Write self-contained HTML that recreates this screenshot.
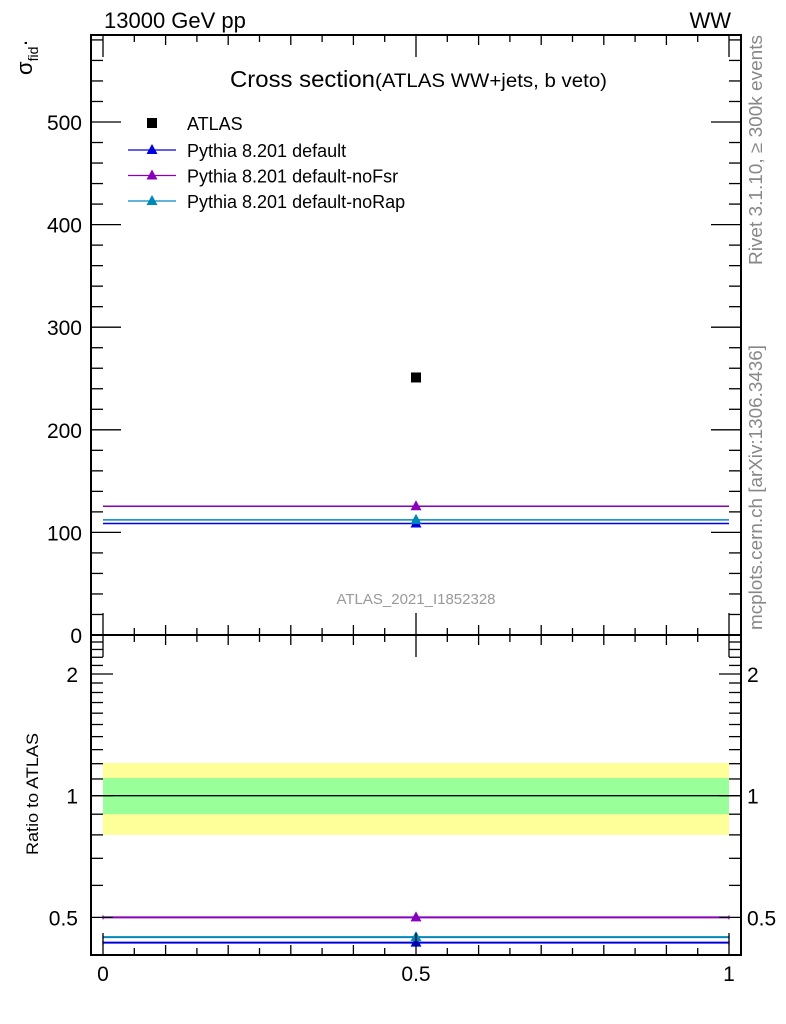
<!DOCTYPE html>
<html><head><meta charset="utf-8"><style>
html,body{margin:0;padding:0;background:#fff;}
svg{display:block;font-family:"Liberation Sans",sans-serif;}
</style></head><body>
<svg id="chart" width="786" height="1024" viewBox="0 0 786 1024" xmlns="http://www.w3.org/2000/svg">
<g id="bands"></g>
<g id="marks"></g>
<g id="axes"></g>
<text x="104" y="28" font-size="22">13000 GeV pp</text>
<text x="731" y="28" font-size="22" text-anchor="end">WW</text>
<text x="230" y="87" font-size="23"><tspan textLength="145" lengthAdjust="spacingAndGlyphs">Cross section</tspan><tspan font-size="19" textLength="232" lengthAdjust="spacingAndGlyphs">(ATLAS WW+jets, b veto)</tspan></text>
<text transform="translate(32,75) rotate(-90)" font-size="22">σ<tspan font-size="14" dy="6">fid</tspan><tspan dy="-6">·</tspan></text>
<text transform="translate(38,855) rotate(-90)" font-size="17" textLength="122" lengthAdjust="spacingAndGlyphs">Ratio to ATLAS</text>
<text x="416" y="604" font-size="15" fill="#999" text-anchor="middle">ATLAS_2021_I1852328</text>
<text transform="translate(762,265) rotate(-90)" font-size="18" fill="#888" textLength="230" lengthAdjust="spacingAndGlyphs">Rivet 3.1.10, ≥ 300k events</text>
<text transform="translate(762,630) rotate(-90)" font-size="18" fill="#888" textLength="285" lengthAdjust="spacingAndGlyphs">mcplots.cern.ch [arXiv:1306.3436]</text>
<g>
<rect x="147" y="118" width="10" height="10" fill="#000"/>
<text x="187" y="130" font-size="18">ATLAS</text>
<g id="legend-series"></g>
</g>
</svg>
<script>
const categories = ["0.0-1.0"];
const binLo = [0];
const binHi = [1];
const binMid = [0.5];
const atlasValues = [251];
const seriesNames = ["Pythia 8.201 default","Pythia 8.201 default-noFsr","Pythia 8.201 default-noRap"];
const seriesColors = ["#0000dd","#8800bb","#0088bb"];
const seriesValues = [[108.7],[125.5],[112.2]];
const ratioInner = [0.90, 1.106];
const ratioOuter = [0.80, 1.205];
const mainTicks = [0,100,200,300,400,500];
const ratioTicks = [0.5,1,2];
const xTicks = [0,0.5,1];

const NS="http://www.w3.org/2000/svg";
const L=91,R=741,T=35,MID=635,B=955;
const xs=v=>103+v*626;
const ym=v=>635-v*1.026;
const yr=v=>795.7-Math.log2(v)*121.7;
function el(tag,attrs,parent){const e=document.createElementNS(NS,tag);for(const k in attrs)e.setAttribute(k,attrs[k]);parent.appendChild(e);return e;}
const axes=document.getElementById('axes'),marks=document.getElementById('marks'),bands=document.getElementById('bands');

let r=el('rect',{x:xs(0),y:yr(ratioOuter[1]),width:xs(1)-xs(0),height:yr(ratioOuter[0])-yr(ratioOuter[1]),fill:'#ffff99'},bands);


r=el('rect',{x:xs(0),y:yr(ratioInner[1]),width:xs(1)-xs(0),height:yr(ratioInner[0])-yr(ratioInner[1]),fill:'#99ff99'},bands);


let ln=el('line',{x1:L,x2:R,y1:yr(1),y2:yr(1),stroke:'#000','stroke-width':1.3},bands);



function tri(cx,cy,c,parent){return el('polygon',{points:`${cx},${cy-6} ${cx-5.5},${cy+4} ${cx+5.5},${cy+4}`,fill:c},parent);}

seriesValues.forEach((vals,i)=>{
  const c=seriesColors[i];
  vals.forEach((v,j)=>{
    const y=ym(v);
    let l=el('line',{x1:xs(binLo[j]),x2:xs(binHi[j]),y1:y,y2:y,stroke:c,'stroke-width':1.5},marks);
    
    
    let t=tri(xs(binMid[j]),y,c,marks);
    
    
    const rv=v/atlasValues[j];const yy=yr(rv);
    let l2=el('line',{x1:xs(binLo[j]),x2:xs(binHi[j]),y1:yy,y2:yy,stroke:c,'stroke-width':2},marks);
    
    
    [binLo[j],binHi[j]].forEach(xv=>{el('line',{x1:xs(xv),x2:xs(xv),y1:yy-2,y2:yy+2,stroke:c,'stroke-width':1.2},marks);});
    let t2=tri(xs(binMid[j]),yy,c,marks);
    
    
  });
});
atlasValues.forEach((v,j)=>{
  let s=el('rect',{x:xs(binMid[j])-5,y:ym(v)-5,width:10,height:10,fill:'#000'},marks);
  
  
});

const lg=document.getElementById('legend-series');
seriesNames.forEach((n,i)=>{
  const y=150+i*25.5;
  el('line',{x1:128,x2:176,y1:y,y2:y,stroke:seriesColors[i],'stroke-width':1.3},lg);
  let t=tri(152,y,seriesColors[i],lg);
  
  
  let tx=el('text',{x:187,y:y+7,'font-size':18},lg);
  tx.textContent=n;
  
  
});

[[T,MID],[MID,B]].forEach(([a,b])=>{el('rect',{x:L,y:a,width:R-L,height:b-a,fill:'none',stroke:'#000','stroke-width':2},axes);});

for(let v=0;v<=580;v+=20){const y=ym(v);const big=v%100===0;const w=big?30:12;
  el('line',{x1:L,x2:L+w,y1:y,y2:y,stroke:'#000','stroke-width':1.3},axes);
  el('line',{x1:R-w,x2:R,y1:y,y2:y,stroke:'#000','stroke-width':1.3},axes);}
mainTicks.forEach(v=>{let t=el('text',{x:82,y:ym(v)+8,'font-size':21,'text-anchor':'end'},axes);t.textContent=v;
  
  });

const minor=[0.5,0.6,0.7,0.8,0.9,1,1.1,1.2,1.3,1.4,1.5,1.6,1.7,1.8,1.9,2,2.1,2.2,2.3,2.4];
minor.forEach(v=>{const y=yr(v);const big=ratioTicks.includes(v);const w=big?22:12;
  el('line',{x1:L,x2:L+w,y1:y,y2:y,stroke:'#000','stroke-width':1.3},axes);
  el('line',{x1:R-w,x2:R,y1:y,y2:y,stroke:'#000','stroke-width':1.3},axes);});
ratioTicks.forEach(v=>{
  let t=el('text',{x:78,y:yr(v)+8,'font-size':21,'text-anchor':'end'},axes);t.textContent=v;
  
  
  let t2=el('text',{x:747,y:yr(v)+8,'font-size':21},axes);t2.textContent=v;
  
  });

for(let k=0;k<=20;k++){const v=k*0.05;const x=xs(v);const big=k%10===0;const w=big?22:(k%2===0?10:7);
  [T,MID].forEach(y0=>el('line',{x1:x,x2:x,y1:y0,y2:y0+w,stroke:'#000','stroke-width':1.3},axes));
  [MID,B].forEach(y0=>el('line',{x1:x,x2:x,y1:y0,y2:y0-w,stroke:'#000','stroke-width':1.3},axes));}
xTicks.forEach(v=>{let t=el('text',{x:xs(v),y:981,'font-size':21,'text-anchor':'middle'},axes);t.textContent=v;
  
  });
</script>
</body></html>
